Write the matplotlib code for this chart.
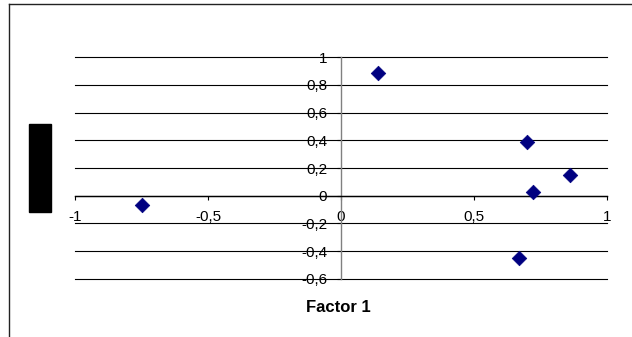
import matplotlib.pyplot as plt
from matplotlib.patches import Rectangle
from matplotlib.lines import Line2D

plt.rcParams['font.family'] = ['Liberation Sans', 'DejaVu Sans']

# cargas factoriales (factor 1, factor 2)
factor1 = [-0.75, 0.14, 0.70, 0.72, 0.86, 0.67]
factor2 = [-0.07, 0.89, 0.39, 0.03, 0.15, -0.45]

xticks = [-1, -0.5, 0, 0.5, 1]
xlabels = ["-1", "-0,5", "0", "0,5", "1"]
yticks = [-0.6, -0.4, -0.2, 0, 0.2, 0.4, 0.6, 0.8, 1]
ylabels = ["-0,6", "-0,4", "-0,2", "0", "0,2", "0,4", "0,6", "0,8", "1"]

W, H = 632, 337
fig = plt.figure(figsize=(W / 100, H / 100), dpi=100)
fig.patch.set_facecolor("white")

# marco del grafico (se corta por la derecha y por abajo)
fig.add_artist(Line2D([8.5 / W, 8.5 / W], [0, 1 - 4 / H], color="#222222", lw=1.0))
fig.add_artist(Line2D([8.5 / W, 1], [1 - 4 / H, 1 - 4 / H], color="#222222", lw=1.0))

# bloque negro en lugar del titulo del eje vertical
fig.add_artist(Rectangle((29 / W, 1 - 212 / H), 22 / W, 88 / H,
                         transform=fig.transFigure, color="black"))

ax = fig.add_axes([75 / W, 1 - 278.7 / H, 532 / W, 221.4 / H])
ax.scatter(factor1, factor2, marker="D", s=55, color="#000080",
           edgecolors="#000080", linewidths=0.5, zorder=3)

ax.set_xlim(-1, 1)
ax.set_ylim(-0.6, 1)

ax.spines["top"].set_visible(False)
ax.spines["right"].set_visible(False)
ax.spines["left"].set_position(("data", 0))
ax.spines["bottom"].set_position(("data", 0))
ax.spines["left"].set_color("#808080")
ax.spines["bottom"].set_color("black")
ax.spines["left"].set_linewidth(1.0)
ax.spines["bottom"].set_linewidth(1.0)

ax.set_xticks(xticks)
ax.set_xticklabels(xlabels)
ax.set_yticks(yticks)
ax.set_yticklabels(ylabels)
ax.tick_params(axis="both", direction="out", length=3, width=0.8,
               labelsize=11, colors="black")
ax.tick_params(axis="x", pad=7)
ax.tick_params(axis="y", pad=7)

ax.yaxis.grid(True, color="black", linewidth=0.8)
for g in ax.get_ygridlines():
    g.set_clip_on(False)
ax.set_axisbelow(True)

fig.text(338 / W, 1 - 307 / H, "Factor 1", ha="center", va="center",
         fontsize=12, fontweight="bold")

fig.savefig("out.png", dpi=100)
